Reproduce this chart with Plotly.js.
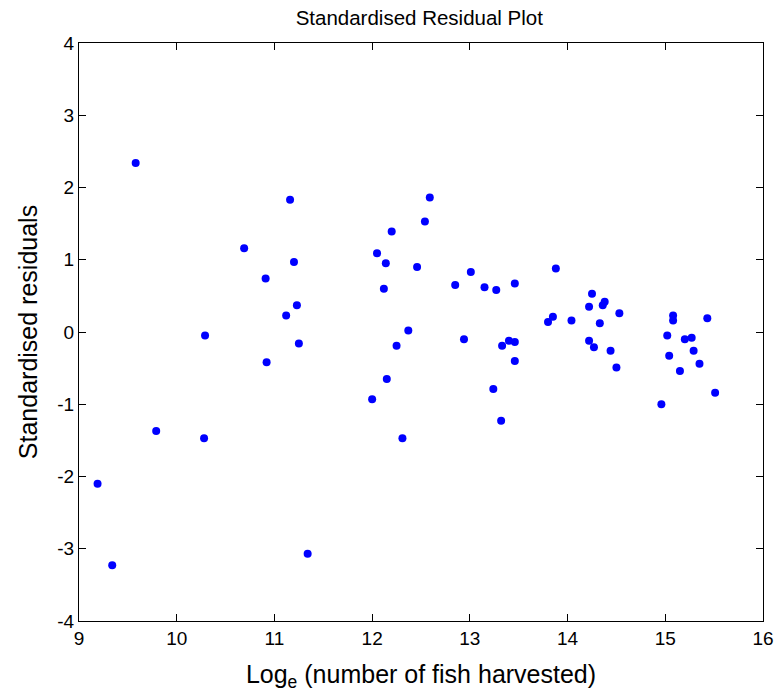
<!DOCTYPE html>
<html>
<head>
<meta charset="utf-8">
<script src="https://cdn.plot.ly/plotly-3.0.1.min.js"></script>
<style>body{margin:0;padding:0;background:#fff}#chart{width:775px;height:693px}</style>
</head>
<body>
<div id="chart"></div>
<script>
const logHarvest = [
  9.58, 11.16, 10.69, 11.20, 10.91, 11.23, 11.12,
  10.29, 11.25, 10.92, 9.79, 10.28, 9.19, 9.34, 11.34,
  12.59, 12.54, 12.20, 12.05, 12.14, 12.46, 12.12, 12.85, 13.01, 13.15, 13.27, 13.46,
  12.37, 12.25, 12.94, 13.33, 13.40, 13.46, 13.46, 12.15, 12.00, 13.24, 13.32, 12.31,
  13.88, 14.25, 14.22, 14.38, 14.36, 14.53, 13.85, 13.80, 14.04, 14.33, 14.22, 14.27, 14.44, 14.50,
  15.08, 15.08, 15.43, 15.02, 15.20, 15.27, 15.29, 15.04, 15.35, 15.15, 15.51, 14.96
];
const stdResiduals = [
  2.34, 1.83, 1.16, 0.97, 0.74, 0.37, 0.23,
  -0.05, -0.16, -0.42, -1.37, -1.47, -2.10, -3.23, -3.07,
  1.86, 1.53, 1.39, 1.09, 0.95, 0.90, 0.60, 0.65, 0.83, 0.62, 0.58, 0.67,
  0.02, -0.19, -0.10, -0.19, -0.12, -0.14, -0.40, -0.65, -0.93, -0.79, -1.23, -1.47,
  0.88, 0.53, 0.35, 0.42, 0.37, 0.26, 0.21, 0.14, 0.16, 0.12, -0.12, -0.21, -0.26, -0.49,
  0.23, 0.16, 0.19, -0.05, -0.10, -0.08, -0.26, -0.33, -0.44, -0.54, -0.84, -1.00
];
const xTicks = [9, 10, 11, 12, 13, 14, 15, 16];
const yTicks = [-4, -3, -2, -1, 0, 1, 2, 3, 4];

const font = 'Liberation Sans, Arial, sans-serif';
const axisCommon = {
  showgrid: false, zeroline: false, showline: true, mirror: 'ticks',
  linecolor: '#000', linewidth: 1, ticks: 'inside', ticklen: 7, tickcolor: '#000',
  tickfont: {family: font, size: 19, color: '#000'}
};
Plotly.newPlot('chart', [{
  x: logHarvest, y: stdResiduals, type: 'scatter', mode: 'markers',
  marker: {color: '#0000FF', size: 8}
}], {
  width: 775, height: 693,
  margin: {l: 79, r: 12, t: 43, b: 72},
  paper_bgcolor: '#fff', plot_bgcolor: '#fff',
  showlegend: false,
  title: {text: 'Standardised Residual Plot', font: {family: font, size: 20.5, color: '#000'}, x: 0.541, xanchor: 'center', y: 0.975, yanchor: 'middle'},
  xaxis: Object.assign({}, axisCommon, {
    range: [9, 16], tickvals: xTicks, ticktext: xTicks.map(String),
    title: {text: 'Log<sub>e</sub> (number of fish harvested)', font: {family: font, size: 25, color: '#000'}, standoff: 17}
  }),
  yaxis: Object.assign({}, axisCommon, {
    range: [-4, 4], tickvals: yTicks, ticktext: yTicks.map(String),
    title: {text: 'Standardised residuals', font: {family: font, size: 25, color: '#000'}, standoff: 12}
  })
}, {staticPlot: true});
</script>
</body>
</html>
